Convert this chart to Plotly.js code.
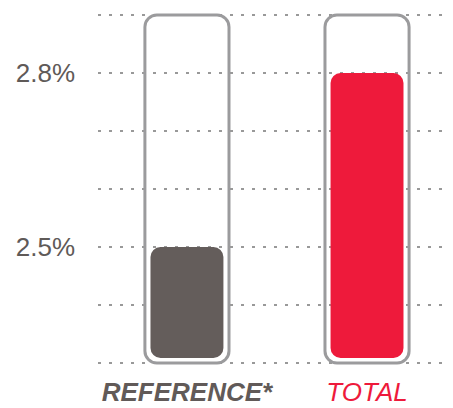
<!DOCTYPE html>
<html>
<head>
<meta charset="utf-8">
<script src="https://cdn.plot.ly/plotly-3.0.1.min.js"></script>
<style>
  html, body { margin: 0; padding: 0; background: #ffffff; }
  #chart { width: 453px; height: 408px; }
</style>
</head>
<body>
<div id="chart"></div>
<script>
// ---- data ----
const categories = ['REFERENCE*', 'TOTAL'];
const values = [2.5, 2.8];
const scaleMin = [2.3, 2.3];
const scaleMax = [2.9, 2.9];
const yTickVals = [2.3, 2.4, 2.5, 2.6, 2.7, 2.8, 2.9];
const yTickText = ['', '', '2.5%', '', '', '2.8%', ''];
const xTickText = [
  '<span style="color:#615a58"><b><i>REFERENCE*</i></b></span>',
  '<span style="color:#ee1a3b"><i>TOTAL</i></span>'
];

// ---- layout geometry ----
const W = 453, H = 408;
const margin = { l: 98, r: 8, t: 12, b: 42 };
const yRange = [2.2948, 2.9052];
const plotH = H - margin.t - margin.b;
const pxPerUnitY = plotH / (yRange[1] - yRange[0]);
const insetPx = 5;
const fillBase = scaleMin.map(v => v + insetPx / pxPerUnitY);

const outlineColor = '#9b9b9d';
const fillColors = ['#645d5b', '#ee1a3b'];

// outline "tube" (base -> scale max), rounded at both ends
const outline = {
  type: 'bar', x: categories,
  base: scaleMin, y: scaleMax.map((m, i) => m - scaleMin[i]),
  width: 0.467,
  marker: { color: 'rgba(0,0,0,0)', line: { color: outlineColor, width: 3 }, cornerradius: 12 },
  hoverinfo: 'skip', showlegend: false
};
// filled value bar
const fill = {
  type: 'bar', x: categories,
  base: fillBase, y: values.map((v, i) => v - fillBase[i]),
  width: 0.405,
  marker: { color: fillColors, line: { width: 0 }, cornerradius: 10 },
  hoverinfo: 'skip', showlegend: false
};

const layout = {
  width: W, height: H,
  margin: margin,
  paper_bgcolor: '#ffffff', plot_bgcolor: '#ffffff',
  barmode: 'overlay',
  showlegend: false,
  hovermode: false,
  font: { family: 'Liberation Sans, Arial, sans-serif' },
  xaxis: {
    type: 'category',
    range: [-0.494, 1.433],
    showgrid: false, zeroline: false, showline: false, ticks: '',
    tickvals: categories, ticktext: xTickText,
    tickfont: { size: 26, color: '#615a58' },
    ticklabelstandoff: 8,
    fixedrange: true
  },
  yaxis: {
    range: yRange,
    tickvals: yTickVals, ticktext: yTickText,
    showgrid: true, gridcolor: '#999999', gridwidth: 2.5, griddash: '2.5px,8.5px',
    zeroline: false, showline: false, ticks: '',
    tickfont: { size: 26, color: '#5f5a58' },
    ticklabelstandoff: 22,
    fixedrange: true
  }
};

Plotly.newPlot('chart', [outline, fill], layout,
  { displayModeBar: false, staticPlot: true });
</script>
</body>
</html>
